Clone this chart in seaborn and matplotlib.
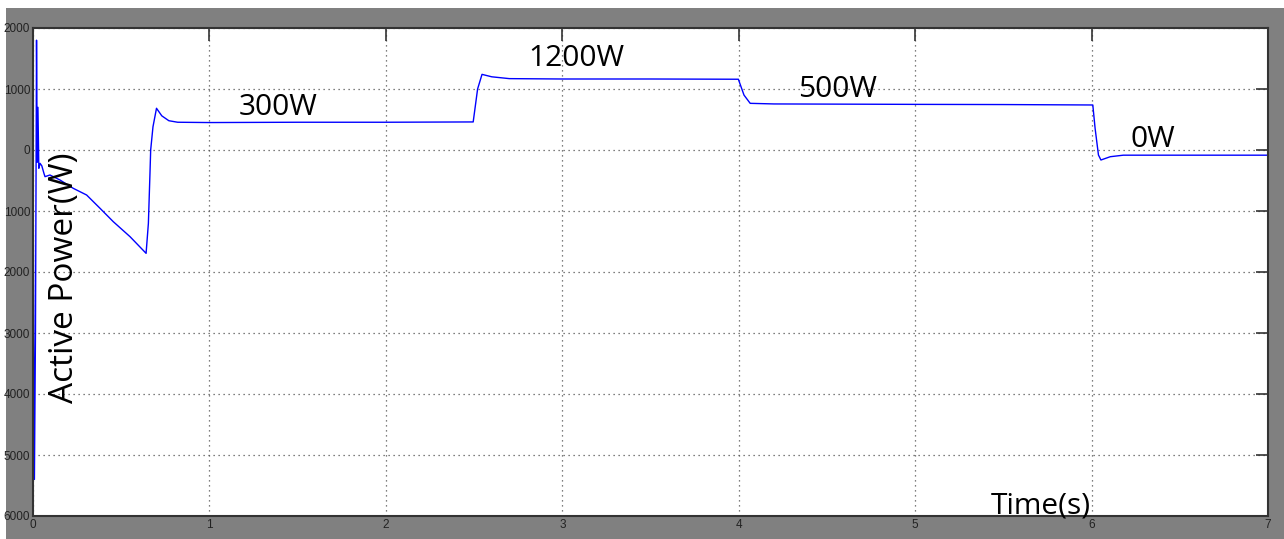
import numpy as np
import pandas as pd
import matplotlib
matplotlib.use('Agg')
import matplotlib.pyplot as plt
from matplotlib.patches import Rectangle
import seaborn as sns

# values
time = [0.000, 0.008, 0.014, 0.020, 0.024, 0.028, 0.033, 0.040, 0.050, 0.062,
        0.068, 0.096, 0.153, 0.228, 0.304, 0.380, 0.455, 0.550, 0.641, 0.654,
        0.663, 0.667, 0.680, 0.700, 0.730, 0.770, 0.820, 1.000, 1.500, 2.000,
        2.495, 2.520, 2.545, 2.600, 2.700, 3.000, 3.500, 3.998, 4.030, 4.065,
        4.200, 5.000, 5.500, 6.007, 6.020, 6.039, 6.053, 6.106, 6.180, 6.500,
        7.000]
power = [0, -5400, -3000, 1800, -200, 700, -300, -219, -260, -383,
         -437, -410, -492, -628, -738, -956, -1175, -1421, -1694, -1202,
         -383, 0, 380, 684, 560, 480, 455, 450, 455, 455,
         460, 1000, 1240, 1200, 1170, 1164, 1164, 1160, 900, 765,
         755, 748, 745, 738, 355, -82, -164, -110, -85, -85,
         -85]

xticks = [0, 1, 2, 3, 4, 5, 6, 7]
yticks = [2000, 1000, 0, -1000, -2000, -3000, -4000, -5000, -6000]
ytick_labels = ['2000', '1000', '0', '1000', '2000', '3000', '4000', '5000', '6000']

labels = ['300W', '1200W', '500W', '0W']
label_t = [1.389, 3.08, 4.56, 6.35]
label_p = [689, 1508, 984, 164]

sns.set_style('white')
plt.rcParams['font.family'] = ['Open Sans', 'DejaVu Sans']

df = pd.DataFrame({'t': time, 'P': power})

fig = plt.figure(figsize=(12.84, 5.39), dpi=100, facecolor='white')
fig.patches.append(Rectangle((6 / 1284, 0), 1, 1 - 8 / 539, transform=fig.transFigure,
                             facecolor='#808080', edgecolor='none', zorder=-5))
ax = fig.add_axes([33 / 1284, 1 - 516 / 539, (1268 - 33) / 1284, (516 - 28) / 539])
ax.set_facecolor('white')

sns.lineplot(data=df, x='t', y='P', ax=ax, color='#0000ff', linewidth=1.0,
             estimator=None, sort=False)

ax.set_xlim(0, 7)
ax.set_ylim(-6000, 2000)
ax.set_xticks(xticks)
ax.set_yticks(yticks)
ax.set_yticklabels(ytick_labels)
ax.set_xlabel('')
ax.set_ylabel('')
ax.grid(True, linestyle=(0, (1, 3)), color='#555555', linewidth=0.9)
ax.tick_params(direction='in', length=9, width=1.2, color='#333333',
               top=True, right=True, labelsize=8.5, pad=2, labelcolor='#222222')
for lab in ax.get_xticklabels() + ax.get_yticklabels():
    lab.set_family(['Liberation Sans Narrow', 'Liberation Sans', 'DejaVu Sans'])
for sp in ax.spines.values():
    sp.set_color('#333333')
    sp.set_linewidth(1.5)

for txt, t, p in zip(labels, label_t, label_p):
    ax.text(t, p, txt, fontsize=21.5, ha='center', va='center', color='black')

ax.text(5.71, -5836, 'Time(s)', fontsize=21.5, ha='center', va='center', color='black')
ax.text(0.176, -2100, 'Active Power(W)', fontsize=24, rotation=90,
        ha='center', va='center', color='black')

fig.savefig('out.png', dpi=100, facecolor=fig.get_facecolor())
